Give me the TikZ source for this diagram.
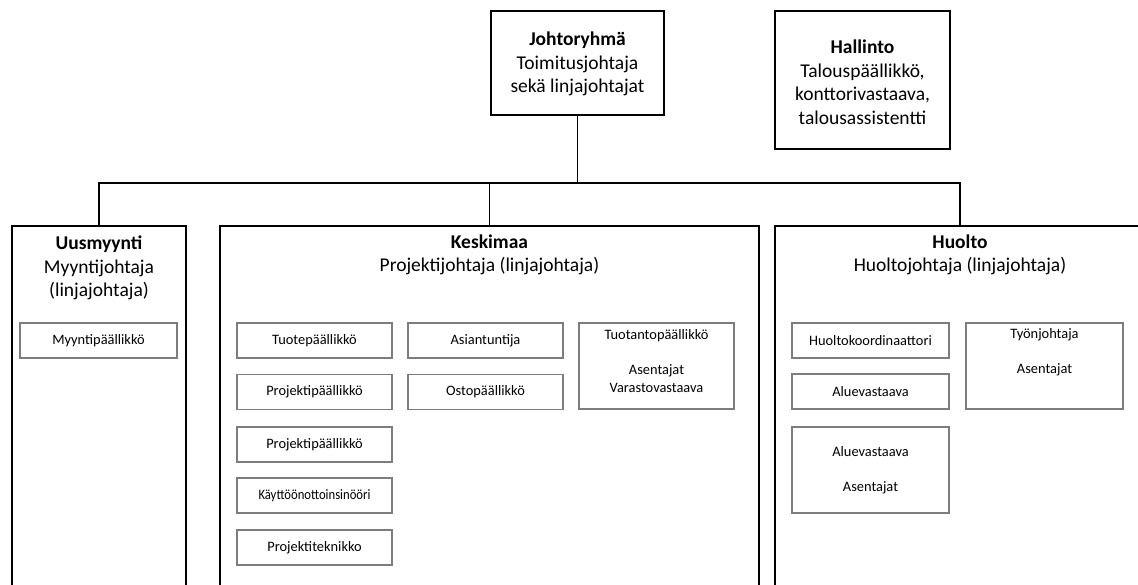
\documentclass[tikz,border=0pt]{standalone}
\usepackage{fontspec}
\setmainfont{Carlito}
\begin{document}
\begin{tikzpicture}[x=1pt,y=-1pt,
  bigbox/.style={draw=black,line width=1.5pt,rectangle,inner sep=0pt},
  subbox/.style={draw={rgb,255:red,125;green,125;blue,125},line width=1.4pt,rectangle,inner sep=0pt,
     minimum width=155pt,minimum height=35pt,align=center,font=\fontsize{14.4}{17.5}\selectfont},
  head/.style={align=center,inner sep=0pt,font=\fontsize{19.5}{23.5}\selectfont},
  subtxt/.style={align=center,inner sep=0pt,font=\fontsize{14.4}{17.5}\selectfont},
  conn/.style={draw=black,line width=1.5pt}]
\clip (0,0) rectangle (1138,585);
% top boxes
\node[bigbox,minimum width=173pt,minimum height=104pt] (johto) at (577.5,63) {};
\node[head] (johtot) at (577.5,64) {\textbf{Johtoryhmä}\\Toimitusjohtaja\\sekä linjajohtajat};
\node[bigbox,minimum width=175pt,minimum height=138pt] (hall) at (862.5,80) {};
\node[head] (hallt) at (862.5,82) {\textbf{Hallinto}\\Talouspäällikkö,\\konttorivastaava,\\talousassistentti};
% department boxes (open at the bottom edge)
\node[bigbox,minimum width=174pt,minimum height=394pt] (uus) at (99,423) {};
\node[head] (uust) at (99,268) {\textbf{Uusmyynti}\\Myyntijohtaja\\(linjajohtaja)};
\node[bigbox,minimum width=539pt,minimum height=394pt] (kesk) at (489.5,423) {};
\node[head] (keskt) at (489.5,255) {\textbf{Keskimaa}\\Projektijohtaja (linjajohtaja)};
\node[bigbox,minimum width=370pt,minimum height=394pt] (huolto) at (960,423) {};
\node[head] (huoltot) at (960,255) {\textbf{Huolto}\\Huoltojohtaja (linjajohtaja)};
% connectors
\coordinate (bus) at (577.5,183);
\draw[conn] (johto.south) -- (bus);
\draw[conn] (uus.north) |- (bus) -| (huolto.north);
\draw[conn] (kesk.north) -- (kesk.north |- bus);
% Uusmyynti
\node[subbox,minimum width=157pt] (myynti) at (98.5,340.5) {Myyntipäällikkö};
% Keskimaa
\node[subbox] (tuote) at (314.5,340.5) {Tuotepäällikkö};
\node[subbox] (proj1) at (314.5,392) {Projektipäällikkö};
\node[subbox] (proj2) at (314.5,444.5) {Projektipäällikkö};
\node[subbox] (kaytto) at (314.5,495.5) {\scalebox{0.88}[1]{Käyttöönottoinsinööri}};
\node[subbox] (projtek) at (314.5,547.5) {Projektiteknikko};
\node[subbox] (asian) at (485.5,340.5) {Asiantuntija};
\node[subbox] (osto) at (485.5,392) {Ostopäällikkö};
\node[subbox,minimum height=86pt] (tuotanto) at (656.5,366) {};
\node[subtxt] (tuotantot) at (656.5,361) {Tuotantopäällikkö\\~\\Asentajat\\Varastovastaava};
% Huolto
\node[subbox,minimum width=157pt] (koord) at (870.5,340.5) {Huoltokoordinaattori};
\node[subbox,minimum width=157pt] (alue1) at (870.5,391.5) {Aluevastaava};
\node[subbox,minimum width=157pt,minimum height=86pt] (alue2) at (870.5,470) {Aluevastaava\\~\\Asentajat};
\node[subbox,minimum width=157pt,minimum height=86pt] (tyon) at (1044.5,366) {};
\node[subtxt] (tyont) at (1044.5,352.5) {Työnjohtaja\\~\\Asentajat};
\end{tikzpicture}
\end{document}
